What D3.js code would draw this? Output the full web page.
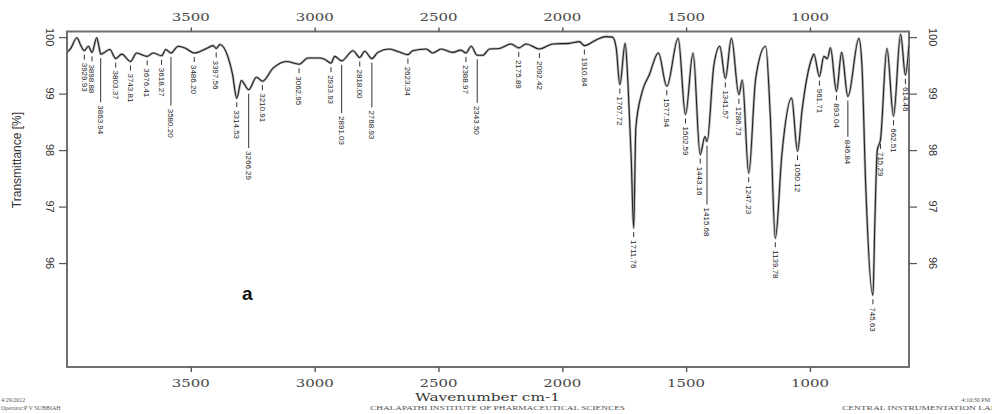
<!DOCTYPE html>
<html>
<head>
<meta charset="utf-8">
<script src="https://cdn.jsdelivr.net/npm/d3@7"></script>
<style>
  body { margin: 0; background: #fff; }
</style>
</head>
<body>
<div id="chart"></div>
<script>
// spectrum (wavenumber in cm-1, transmittance in %)
const wavenumbers = [
  4000, 3985, 3960, 3945, 3929.93, 3914, 3898.88, 3880, 3872, 3863.94,
  3827, 3803.37, 3779, 3743.81, 3719, 3676.41, 3652, 3618.27, 3601, 3580.20,
  3551, 3520, 3486.20, 3437, 3410, 3397.56, 3383, 3350, 3332, 3314.53,
  3296, 3266.29, 3235, 3210.91, 3168, 3114, 3062.95, 3027, 2980, 2960,
  2933.93, 2919, 2891.03, 2845, 2818.00, 2798, 2768.93, 2745, 2698, 2660,
  2623.34, 2604, 2550, 2523, 2489, 2442, 2410, 2388.97, 2368, 2343.50,
  2321, 2294, 2254, 2207, 2175.89, 2146, 2092.42, 2039, 1972, 1931,
  1910.84, 1864, 1824, 1797, 1782, 1767.72, 1746, 1735, 1722, 1711.76,
  1703, 1677, 1649, 1612, 1577.94, 1532, 1502.59, 1472, 1443.16, 1424,
  1415.68, 1388, 1364, 1341.57, 1317, 1286.73, 1273, 1247.23, 1219, 1179,
  1160, 1139.78, 1113, 1074, 1050.12, 1032, 992, 984, 961.71, 944,
  930, 917, 893.04, 872, 846.84, 802, 790, 775, 745.63, 738,
  728, 715.29, 689, 662.51, 634, 614.46, 600
];
const transmittance = [
  99.73, 99.80, 99.99, 99.86, 99.76, 99.84, 99.73, 99.99, 99.86, 99.70,
  99.78, 99.62, 99.70, 99.57, 99.72, 99.66, 99.72, 99.67, 99.78, 99.72,
  99.84, 99.80, 99.72, 99.80, 99.85, 99.80, 99.87, 99.65, 99.35, 98.92,
  99.23, 99.07, 99.29, 99.22, 99.45, 99.57, 99.52, 99.63, 99.63, 99.61,
  99.54, 99.66, 99.58, 99.76, 99.64, 99.75, 99.62, 99.73, 99.79, 99.74,
  99.69, 99.76, 99.79, 99.72, 99.79, 99.73, 99.77, 99.72, 99.84, 99.68,
  99.68, 99.79, 99.80, 99.88, 99.81, 99.88, 99.79, 99.88, 99.89, 99.92,
  99.85, 99.95, 100.01, 100.00, 99.80, 99.16, 99.89, 99.20, 97.90, 96.62,
  98.40, 99.04, 99.33, 99.72, 99.13, 99.98, 98.63, 99.72, 97.92, 98.24,
  98.15, 99.50, 99.84, 99.27, 99.98, 98.98, 99.24, 97.59, 99.27, 99.84,
  98.60, 96.44, 97.94, 98.92, 97.98, 98.70, 99.63, 99.70, 99.30, 99.66,
  99.62, 99.81, 99.04, 99.73, 98.95, 99.98, 99.50, 97.40, 95.43, 96.70,
  98.00, 98.18, 99.80, 98.60, 100.05, 99.33, 99.86
];

// labelled peaks
const peaks = [
  3929.93, 3898.88, 3863.94, 3803.37, 3743.81, 3676.41, 3618.27, 3580.20,
  3486.20, 3397.56, 3314.53, 3266.29, 3210.91, 3062.95, 2933.93, 2891.03,
  2818.00, 2768.93, 2623.34, 2388.97, 2343.50, 2175.89, 2092.42, 1910.84,
  1767.72, 1711.76, 1577.94, 1502.59, 1443.16, 1415.68, 1341.57, 1286.73,
  1247.23, 1139.78, 1050.12, 961.71, 893.04, 846.84, 745.63, 715.29,
  662.51, 614.46
];
// labels pushed down under their left neighbour, with a leader line
const leaderPeaks = [3863.94, 3580.20, 3266.29, 2891.03, 2768.93, 2343.50, 1415.68, 846.84];

const xTicks = [3500, 3000, 2500, 2000, 1500, 1000];
const yTicks = [100, 99, 98, 97, 96];

const width = 992, height = 414;
const plot = { left: 67, right: 909, top: 31.5, bottom: 367 };

const svg = d3.select("#chart")
  .append("svg")
  .attr("width", width)
  .attr("height", height);

const x = d3.scaleLinear()
  .domain([4000, 600])
  .range([plot.left, plot.right]);

const y = d3.scaleLinear()
  .domain([94.16, 100.1])
  .range([plot.bottom, plot.top]);

const data = wavenumbers.map((w, i) => ({ w: w, t: transmittance[i] }));

// frame
svg.append("rect")
  .attr("x", plot.left)
  .attr("y", plot.top)
  .attr("width", plot.right - plot.left)
  .attr("height", plot.bottom - plot.top)
  .attr("fill", "none")
  .attr("stroke", "#6f6f6f")
  .attr("stroke-width", 2);

// top and bottom axes
const axisTop = svg.append("g")
  .attr("transform", `translate(0,${plot.top})`)
  .call(d3.axisTop(x).tickValues(xTicks).tickSize(4).tickFormat(""));
const axisBottom = svg.append("g")
  .attr("transform", `translate(0,${plot.bottom})`)
  .call(d3.axisBottom(x).tickValues(xTicks).tickSize(5).tickFormat(""));
[axisTop, axisBottom].forEach(function (g) {
  g.select(".domain").remove();
  g.selectAll("line").attr("stroke", "#555").attr("stroke-width", 1.4);
});

svg.selectAll(".xlab-top")
  .data(xTicks)
  .enter().append("text")
  .attr("x", d => x(d))
  .attr("y", 21)
  .attr("text-anchor", "middle")
  .attr("textLength", 38)
  .attr("lengthAdjust", "spacingAndGlyphs")
  .style("font-family", "'DejaVu Serif', serif")
  .style("font-size", "11px")
  .style("fill", "#4a4a4a")
  .text(d => d);

svg.selectAll(".xlab-bottom")
  .data(xTicks)
  .enter().append("text")
  .attr("x", d => x(d))
  .attr("y", 387)
  .attr("text-anchor", "middle")
  .attr("textLength", 38)
  .attr("lengthAdjust", "spacingAndGlyphs")
  .style("font-family", "'DejaVu Serif', serif")
  .style("font-size", "11px")
  .style("fill", "#4a4a4a")
  .text(d => d);

// left and right axes
const axisLeft = svg.append("g")
  .attr("transform", `translate(${plot.left},0)`)
  .call(d3.axisLeft(y).tickValues(yTicks).tickSize(8).tickFormat(""));
const axisRight = svg.append("g")
  .attr("transform", `translate(${plot.right},0)`)
  .call(d3.axisRight(y).tickValues(yTicks).tickSize(8).tickFormat(""));
[axisLeft, axisRight].forEach(function (g) {
  g.select(".domain").remove();
  g.selectAll("line").attr("stroke", "#555").attr("stroke-width", 1.2);
});

[50, 933].forEach(function (lx) {
  svg.selectAll(null)
    .data(yTicks)
    .enter().append("text")
    .attr("transform", d => `translate(${lx},${y(d)}) rotate(90)`)
    .attr("text-anchor", "middle")
    .attr("dy", "0.35em")
    .style("font-family", "'Liberation Sans', Arial, sans-serif")
    .style("font-size", "11px")
    .style("fill", "#333")
    .text(d => d);
});

// axis titles
svg.append("text")
  .attr("transform", `translate(17,160) rotate(-90)`)
  .attr("text-anchor", "middle")
  .attr("dy", "0.35em")
  .style("font-family", "'Liberation Sans', Arial, sans-serif")
  .style("font-size", "12px")
  .style("fill", "#333")
  .text("Transmittance [%]");

svg.append("text")
  .attr("x", 415)
  .attr("y", 401)
  .attr("textLength", 145)
  .attr("lengthAdjust", "spacingAndGlyphs")
  .style("font-family", "'DejaVu Serif', serif")
  .style("font-size", "11.5px")
  .style("fill", "#3a3a3a")
  .text("Wavenumber cm-1");

// spectrum
const line = d3.line()
  .x(d => x(d.w))
  .y(d => y(d.t))
  .curve(d3.curveMonotoneX);

svg.append("path")
  .datum(data)
  .attr("d", line)
  .attr("fill", "none")
  .attr("stroke", "#b4b4b4")
  .attr("stroke-width", 2.6)
  .attr("stroke-linejoin", "round");

svg.append("path")
  .datum(data)
  .attr("d", line)
  .attr("fill", "none")
  .attr("stroke", "#222")
  .attr("stroke-width", 1.1)
  .attr("stroke-linejoin", "round");

// peak labels
const peakGroup = svg.append("g");
let prevEnd = 0;
peaks.forEach(function (p) {
  const i = wavenumbers.indexOf(p);
  const px = x(p), py = y(transmittance[i]);
  let start = py + 12;
  if (leaderPeaks.includes(p)) {
    start = prevEnd + 12;
    peakGroup.append("line")
      .attr("x1", px).attr("x2", px)
      .attr("y1", py + 4).attr("y2", start - 3)
      .attr("stroke", "#333").attr("stroke-width", 1);
  } else {
    peakGroup.append("line")
      .attr("x1", px).attr("x2", px)
      .attr("y1", py + 4).attr("y2", py + 9)
      .attr("stroke", "#333").attr("stroke-width", 1);
  }
  const t = peakGroup.append("text")
    .attr("transform", `translate(${px},${start}) rotate(90)`)
    .attr("dy", "0.35em")
    .style("font-family", "'Liberation Sans', Arial, sans-serif")
    .style("font-size", "8px")
    .style("fill", "#222")
    .text(p.toFixed(2));
  prevEnd = start + t.node().getComputedTextLength();
});

// panel letter
svg.append("text")
  .attr("x", 242)
  .attr("y", 300)
  .style("font-family", "'Liberation Sans', Arial, sans-serif")
  .style("font-size", "19px")
  .style("font-weight", "bold")
  .style("fill", "#111")
  .text("a");

// footer
const footer = svg.append("g")
  .style("font-family", "'Liberation Serif', serif")
  .style("font-size", "6px")
  .style("fill", "#555");
footer.append("text").attr("x", 1).attr("y", 402).text("4/29/2012");
footer.append("text").attr("x", 1).attr("y", 410).text("Operator:P V SUBBIAH");
footer.append("text").attr("x", 370).attr("y", 410).attr("textLength", 255)
  .attr("lengthAdjust", "spacingAndGlyphs")
  .text("CHALAPATHI INSTITUTE OF PHARMACEUTICAL SCIENCES");
footer.append("text").attr("x", 990).attr("y", 402).attr("text-anchor", "end").text("4:10:30 PM");
footer.append("text").attr("x", 842).attr("y", 410).attr("textLength", 155)
  .attr("lengthAdjust", "spacingAndGlyphs")
  .text("CENTRAL INSTRUMENTATION LAB");
</script>
</body>
</html>
